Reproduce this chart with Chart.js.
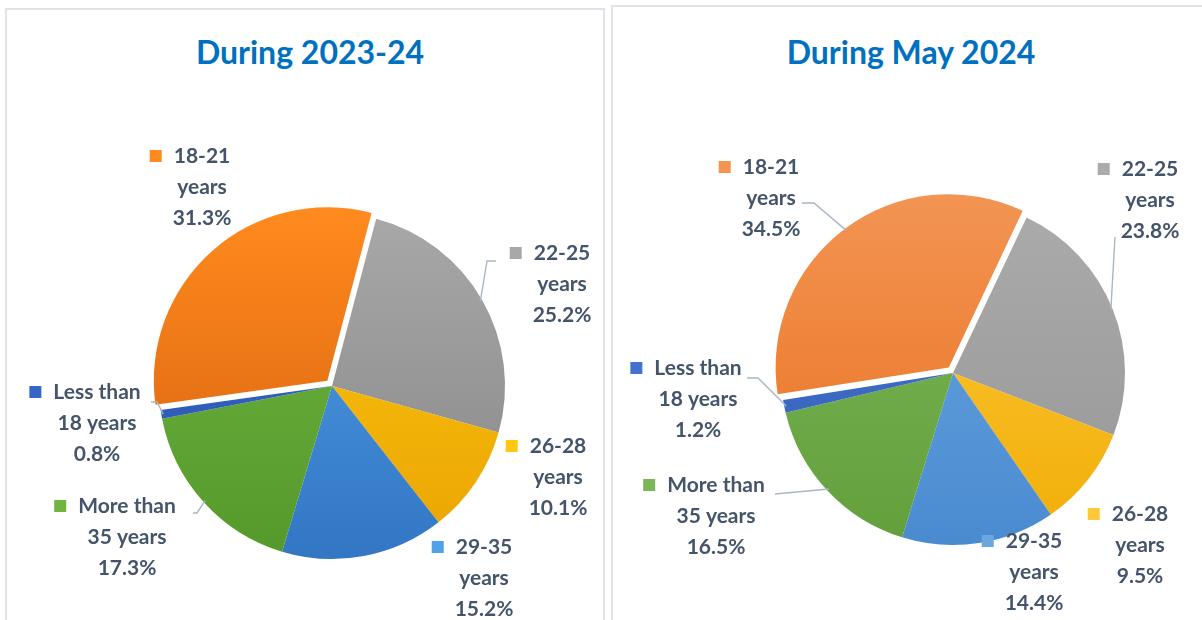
<!DOCTYPE html>
<html lang="en">
<head>
<meta charset="UTF-8">
<title>Age profile</title>
<script src="https://cdn.jsdelivr.net/npm/chart.js"></script>
<style>
    body, html { margin: 0; padding: 0; width: 1202px; height: 620px; overflow: hidden; background: #fff; font-family: Lato, Arial, sans-serif; }
    .panel { position: absolute; border: 2px solid #dfe2e8; box-sizing: border-box; }
    #panelLeft { left: 5px; top: 8px; width: 600px; height: 640px; }
    #panelRight { left: 611px; top: 5px; width: 600px; height: 640px; }
    .title { position: absolute; top: 36px; font-weight: bold; font-size: 32px; line-height: 32px; color: #0070c0; transform: translateX(-50%); white-space: nowrap; }
    canvas { position: absolute; top: 0; }
</style>
</head>
<body>
<div class="panel" id="panelLeft"></div>
<div class="panel" id="panelRight"></div>
<div class="title" style="left:310px">During 2023-24</div>
<div class="title" style="left:911px">During May 2024</div>
<canvas id="pieLeft" width="608" height="620" style="left:0"></canvas>
<canvas id="pieRight" width="594" height="620" style="left:608px"></canvas>

<script>
const categories = ['18-21 years', '22-25 years', '26-28 years', '29-35 years', 'More than 35 years', 'Less than 18 years'];
const labelLines = [['18-21', 'years'], ['22-25', 'years'], ['26-28', 'years'], ['29-35', 'years'], ['More than', '35 years'], ['Less than', '18 years']];
const share2023 = [31.3, 25.2, 10.1, 15.2, 17.3, 0.8];
const shareMay2024 = [34.5, 23.8, 9.5, 14.4, 16.5, 1.2];

// top / bottom colour of each slice (Excel-like shading)
const colorsLeft = [['#ff8a1e', '#d5600e'], ['#a8a8a8', '#868686'], ['#ffc712', '#e9a400'], ['#52a0e6', '#3276c4'], ['#70b542', '#55992b'], ['#3466c8', '#2a57b0']];
const colorsRight = [['#f39453', '#e8711f'], ['#ababab', '#969696'], ['#ffc83a', '#f0ae08'], ['#6aa6e0', '#4a8bd0'], ['#7cb757', '#63a03c'], ['#4272cc', '#3562bb']];

// label anchors relative to the pie centre, and leader starts relative to the label
const labelPosLeft = [[-130, -199], [230, -102], [226, 91], [152, 192], [-205, 151], [-235, 37]];
const leadersLeft = [null, [-66, -23, -9], null, null, [66, -24, 4], [54, -21, 6]];
const labelPosRight = [[-182, -175], [197, -173], [187, 172], [81, 199], [-237, 143], [-255, 26]];
const leadersRight = [[31, 5, 12], [-35, 37, 0], null, null, [59, -22, 0], [49, -21, 11]];

function shaded(colors, r) {
    return (c) => {
        const pair = colors[c.dataIndex];
        const area = c.chart.chartArea;
        if (!area) return pair[0];
        const cy = (area.top + area.bottom) / 2;
        const g = c.chart.ctx.createLinearGradient(0, cy - r, 0, cy + r);
        g.addColorStop(0, pair[0]);
        g.addColorStop(1, pair[1]);
        return g;
    };
}

const pieLabels = {
    id: 'pieLabels',
    afterDatasetsDraw(chart, args, opts) {
        const ctx = chart.ctx;
        const meta = chart.getDatasetMeta(0);
        const values = chart.data.datasets[0].data;
        const lh = 31;
        ctx.save();
        ctx.font = 'bold 21px Lato';
        ctx.textAlign = 'center';
        ctx.textBaseline = 'middle';
        meta.data.forEach((arc, i) => {
            const lx = arc.x + opts.positions[i][0];
            const ly = arc.y + opts.positions[i][1];
            const lines = labelLines[i].concat([values[i].toFixed(1) + '%']);

            const lead = opts.leaders[i];
            if (lead) {
                const mid = (arc.startAngle + arc.endAngle) / 2;
                const off = (arc.options.offset || 0) / 4;
                const span = arc.endAngle - arc.startAngle;
                const t = off * (2 - Math.sin(Math.min(Math.PI, span)));
                const r = arc.outerRadius - 2 + t;
                const ex = arc.x + Math.cos(mid) * r;
                const ey = arc.y + Math.sin(mid) * r;
                const sx = lx + lead[0], sy = ly + lead[1];
                ctx.strokeStyle = '#a9b6c8';
                ctx.lineWidth = 1.4;
                ctx.beginPath();
                ctx.moveTo(sx, sy);
                ctx.lineTo(sx + lead[2], sy);
                ctx.lineTo(ex, ey);
                ctx.stroke();
            }

            ctx.fillStyle = '#44546a';
            lines.forEach((txt, k) => {
                ctx.fillText(txt, lx, ly + (k - 1) * lh);
            });
            const w = ctx.measureText(lines[0]).width;
            ctx.fillStyle = opts.colors[i][0];
            ctx.fillRect(lx - w / 2 - 24, ly - lh - 6, 12, 12);
        });
        ctx.restore();
    }
};

function makePie(id, values, colors, radius, rotation, padding, positions, leaders) {
    return new Chart(document.getElementById(id), {
        type: 'pie',
        data: {
            labels: categories,
            datasets: [{
                data: values,
                backgroundColor: shaded(colors, radius),
                borderWidth: 0,
                offset: [28, 0, 0, 0, 0, 0],
                radius: radius
            }]
        },
        options: {
            responsive: false,
            animation: false,
            rotation: rotation,
            layout: { padding: padding },
            plugins: {
                legend: { display: false },
                tooltip: { enabled: false },
                pieLabels: { positions: positions, leaders: leaders, colors: colors }
            }
        },
        plugins: [pieLabels]
    });
}

makePie('pieLeft', share2023, colorsLeft, 173, -98, { left: 56, top: 152, right: 0, bottom: 0 }, labelPosLeft, leadersLeft);
makePie('pieRight', shareMay2024, colorsRight, 172, -99, { left: 96, top: 126, right: 0, bottom: 0 }, labelPosRight, leadersRight);
</script>
</body>
</html>
